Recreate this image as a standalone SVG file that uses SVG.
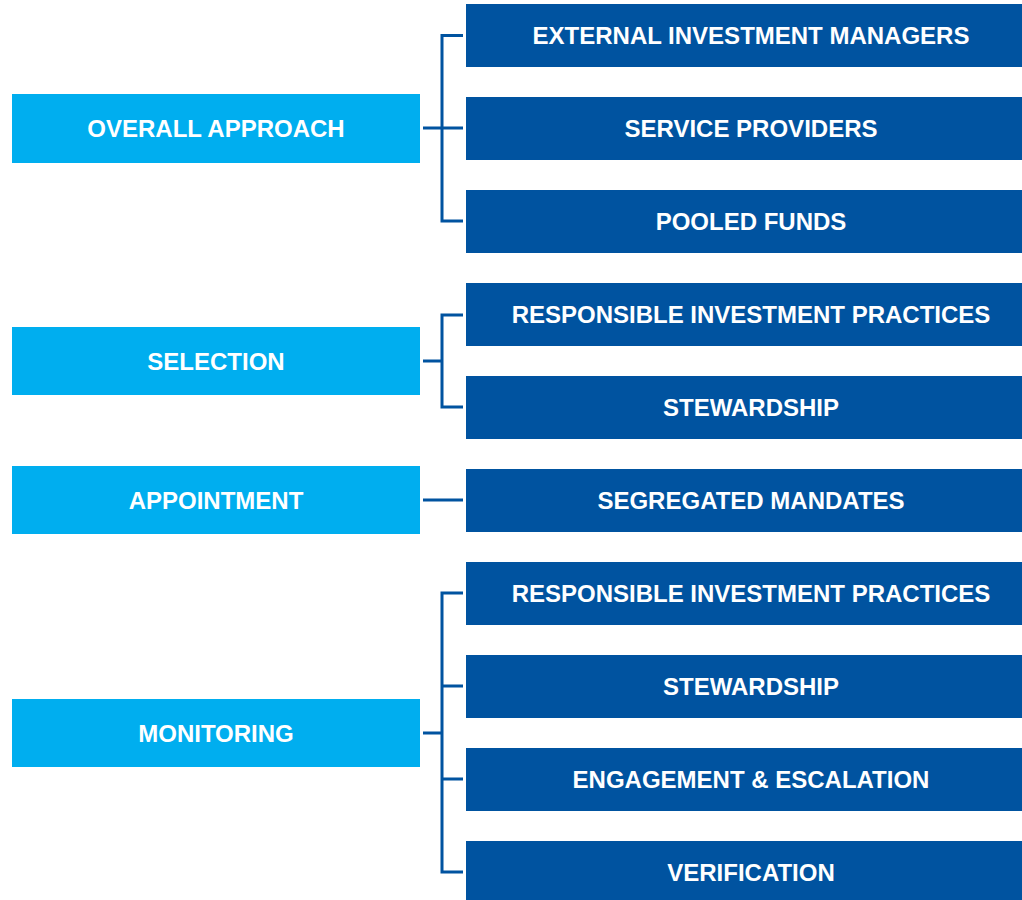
<svg xmlns="http://www.w3.org/2000/svg" width="1022" height="900" viewBox="0 0 1022 900">
<style>
.l{fill:#00AEEF}
.r{fill:#0053A0}
text{font-family:"Liberation Sans",Arial,sans-serif;font-weight:bold;font-size:24px;fill:#fff;text-anchor:middle}
.c{fill:none;stroke:#0053A0;stroke-width:3}
</style>
<rect width="1022" height="900" fill="#fff"/>
<g id="connectors">
<path class="c" d="M423 128H442M463 35.5H442V221H463M442 128H463"/>
<path class="c" d="M423 361H442M463 315H442V407H463"/>
<path class="c" d="M423 500H463"/>
<path class="c" d="M423 733H442M463 593H442V872H463M442 686H463M442 779H463"/>
</g>
<g id="overall"><rect class="l" x="12" y="94" width="408" height="69"/><text x="216" y="137">OVERALL APPROACH</text></g>
<g id="selection"><rect class="l" x="12" y="327" width="408" height="68"/><text x="216" y="369.5">SELECTION</text></g>
<g id="appointment"><rect class="l" x="12" y="466" width="408" height="68"/><text x="216" y="508.5">APPOINTMENT</text></g>
<g id="monitoring"><rect class="l" x="12" y="699" width="408" height="68"/><text x="216" y="741.5">MONITORING</text></g>
<g id="ext"><rect class="r" x="466" y="4" width="556" height="63"/><text x="751" y="43.5">EXTERNAL INVESTMENT MANAGERS</text></g>
<g id="svc"><rect class="r" x="466" y="97" width="556" height="63"/><text x="751" y="136.5">SERVICE PROVIDERS</text></g>
<g id="pooled"><rect class="r" x="466" y="190" width="556" height="63"/><text x="751" y="229.5">POOLED FUNDS</text></g>
<g id="rip1"><rect class="r" x="466" y="283" width="556" height="63"/><text x="751" y="322.5">RESPONSIBLE INVESTMENT PRACTICES</text></g>
<g id="stew1"><rect class="r" x="466" y="376" width="556" height="63"/><text x="751" y="415.5">STEWARDSHIP</text></g>
<g id="seg"><rect class="r" x="466" y="469" width="556" height="63"/><text x="751" y="508.5">SEGREGATED MANDATES</text></g>
<g id="rip2"><rect class="r" x="466" y="562" width="556" height="63"/><text x="751" y="601.5">RESPONSIBLE INVESTMENT PRACTICES</text></g>
<g id="stew2"><rect class="r" x="466" y="655" width="556" height="63"/><text x="751" y="694.5">STEWARDSHIP</text></g>
<g id="eng"><rect class="r" x="466" y="748" width="556" height="63"/><text x="751" y="787.5">ENGAGEMENT &amp; ESCALATION</text></g>
<g id="ver"><rect class="r" x="466" y="841" width="556" height="63"/><text x="751" y="880.5">VERIFICATION</text></g>
</svg>
